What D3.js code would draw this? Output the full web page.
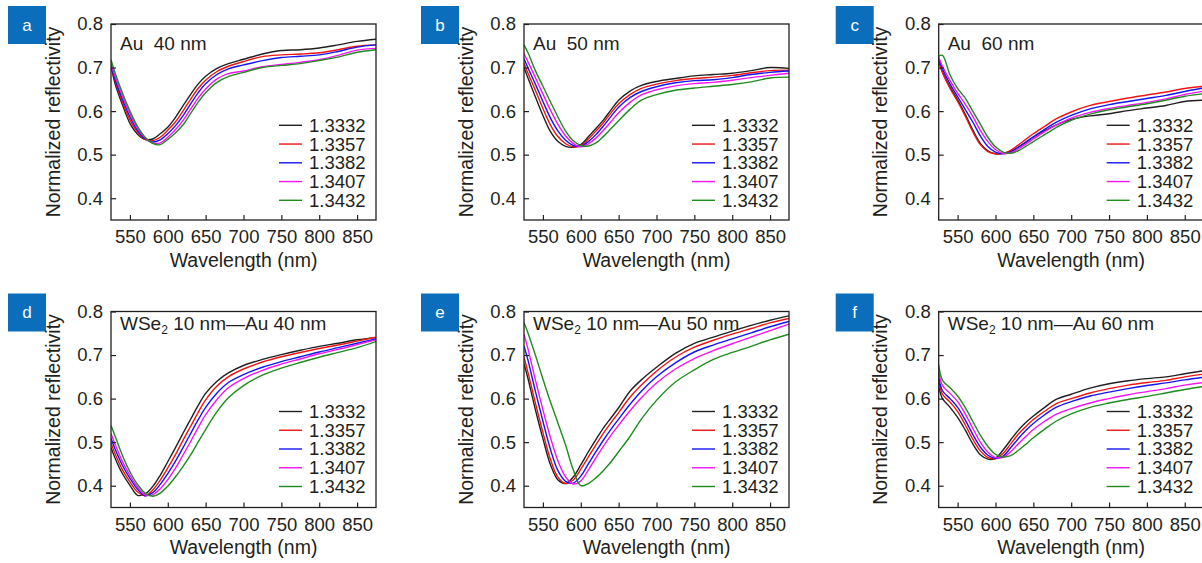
<!DOCTYPE html>
<html>
<head>
<meta charset="utf-8">
<script src="https://cdn.jsdelivr.net/npm/d3@7"></script>
<style>
  body { margin: 0; background: #fff; }
  text { font-family: "Liberation Sans", Arial, sans-serif; fill: #231f20; }
</style>
</head>
<body>
<div id="chart"></div>
<script>
// wavelength grid (nm) shared by every curve
var wavelength = [525, 530, 540, 550, 560, 570, 580, 590, 600, 610, 620, 630, 640, 650, 665, 680, 700, 725, 750, 775, 800, 825, 850, 875];
var indices = ["1.3332", "1.3357", "1.3382", "1.3407", "1.3432"];
var xTicks = [550, 600, 650, 700, 750, 800, 850];
var yTicks = [0.4, 0.5, 0.6, 0.7, 0.8];
var panelLetters = ["a", "b", "c", "d", "e", "f"];
var auThickness = ["40", "50", "60", "40", "50", "60"];

// reflectivity per panel, one row per refractive index
var au40 = [
  [.706, .665, .615, .572, .547, .535, .536, .548, .563, .585, .612, .638, .662, .680, .698, .709, .719, .731, .739, .741, .745, .752, .760, .765],
  [.703, .672, .622, .580, .552, .535, .532, .540, .556, .575, .600, .627, .652, .671, .691, .703, .714, .725, .729, .731, .734, .741, .749, .752],
  [.704, .675, .628, .587, .556, .537, .529, .534, .548, .566, .589, .616, .642, .663, .684, .697, .706, .716, .723, .726, .729, .737, .747, .752],
  [.710, .682, .635, .594, .561, .539, .527, .527, .540, .557, .578, .604, .630, .651, .674, .686, .692, .702, .707, .712, .718, .728, .740, .744],
  [.718, .690, .642, .600, .565, .540, .526, .523, .535, .550, .568, .594, .620, .642, .666, .679, .689, .700, .705, .709, .716, .724, .735, .741]
];
var au50 = [
  [.700, .677, .633, .590, .553, .530, .519, .517, .523, .541, .560, .580, .603, .625, .646, .659, .668, .675, .681, .684, .687, .693, .700, .698],
  [.710, .688, .648, .606, .568, .541, .525, .518, .520, .536, .554, .574, .596, .617, .638, .652, .662, .670, .675, .678, .682, .688, .693, .694],
  [.720, .700, .662, .622, .584, .554, .533, .521, .519, .530, .546, .566, .588, .609, .631, .645, .656, .665, .670, .672, .677, .684, .689, .692],
  [.732, .714, .677, .639, .602, .569, .543, .526, .518, .525, .538, .556, .576, .596, .620, .637, .649, .658, .663, .666, .671, .677, .682, .687],
  [.752, .735, .693, .657, .621, .586, .554, .532, .521, .520, .527, .542, .560, .578, .604, .625, .638, .648, .653, .657, .661, .667, .676, .678]
];
var au60 = [
  [.715, .690, .655, .626, .593, .557, .526, .509, .502, .503, .508, .517, .528, .540, .555, .568, .581, .589, .594, .601, .607, .613, .622, .625],
  [.718, .688, .652, .622, .589, .553, .523, .507, .502, .503, .510, .522, .535, .548, .565, .582, .598, .613, .622, .630, .637, .644, .652, .657],
  [.720, .697, .662, .633, .604, .575, .543, .519, .506, .502, .506, .517, .529, .541, .558, .574, .590, .605, .615, .622, .629, .636, .645, .653],
  [.723, .703, .670, .641, .616, .588, .556, .530, .512, .503, .504, .513, .524, .536, .553, .568, .584, .597, .606, .613, .620, .628, .638, .646],
  [.726, .728, .683, .652, .630, .600, .570, .540, .518, .506, .503, .509, .519, .530, .546, .562, .579, .593, .603, .610, .617, .625, .634, .640]
];
var wse2Au40 = [
  [.488, .465, .428, .401, .378, .381, .398, .424, .455, .487, .520, .552, .584, .612, .640, .659, .676, .690, .701, .711, .720, .727, .735, .740],
  [.498, .475, .437, .409, .386, .377, .390, .413, .441, .471, .504, .536, .568, .597, .629, .650, .668, .684, .696, .706, .715, .723, .732, .741],
  [.509, .486, .447, .417, .392, .377, .384, .403, .428, .456, .487, .519, .551, .580, .613, .637, .655, .672, .685, .696, .707, .717, .727, .737],
  [.520, .497, .456, .424, .397, .379, .379, .393, .414, .440, .470, .501, .533, .563, .598, .625, .646, .665, .679, .691, .703, .713, .724, .735],
  [.538, .516, .470, .432, .403, .383, .376, .383, .399, .420, .444, .470, .500, .529, .570, .602, .630, .654, .670, .683, .695, .706, .717, .731]
];
var wse2Au50 = [
  [.680, .648, .575, .508, .448, .413, .405, .420, .448, .478, .506, .533, .556, .579, .617, .643, .672, .704, .727, .741, .755, .768, .780, .790],
  [.695, .662, .590, .522, .460, .419, .405, .413, .438, .466, .494, .521, .545, .568, .603, .631, .663, .695, .718, .734, .748, .761, .774, .784],
  [.721, .690, .617, .548, .483, .434, .410, .406, .422, .450, .478, .505, .530, .553, .587, .617, .650, .682, .707, .723, .737, .751, .765, .777],
  [.748, .716, .643, .574, .510, .456, .420, .404, .411, .436, .464, .491, .516, .539, .572, .602, .636, .668, .692, .710, .726, .741, .756, .771],
  [.775, .752, .700, .645, .592, .543, .493, .437, .400, .405, .418, .435, .455, .478, .513, .553, .596, .638, .666, .690, .706, .720, .735, .748]
];
var wse2Au60 = [
  [.628, .600, .580, .557, .528, .496, .471, .461, .463, .482, .505, .527, .545, .560, .580, .598, .610, .624, .634, .641, .646, .650, .657, .664],
  [.640, .610, .592, .570, .540, .507, .480, .465, .462, .474, .496, .518, .536, .552, .571, .588, .600, .613, .623, .631, .637, .642, .650, .656],
  [.650, .618, .600, .580, .551, .518, .489, .470, .463, .468, .487, .508, .527, .543, .563, .580, .593, .606, .615, .623, .630, .636, .643, .649],
  [.662, .630, .612, .593, .565, .532, .500, .477, .465, .465, .478, .496, .513, .529, .548, .564, .577, .590, .600, .609, .616, .623, .631, .637],
  [.678, .642, .625, .606, .580, .548, .516, .490, .472, .466, .469, .481, .495, .510, .530, .548, .565, .580, .590, .598, .605, .613, .621, .628]
];

var panelData = [au40, au50, au60, wse2Au40, wse2Au50, wse2Au60];
var lineColors = ["#231f20", "#f01414", "#1414f5", "#f514f5", "#1e8c1e"];

var svgWidth = 1202;
var svgHeight = 563;
var plotW = 265;
var plotH = 196;
var colX = [111, 524, 938.7];
var rowY = [24, 311.5];
var titleBase = [26, 18.5];
var legendTop = [101.3, 100];

var svg = d3.select("#chart")
  .append("svg")
  .attr("width", svgWidth)
  .attr("height", svgHeight);

svg.append("rect").attr("width", svgWidth).attr("height", svgHeight).attr("fill", "#fff");

var defs = svg.append("defs");
defs.append("clipPath").attr("id", "plotClip")
  .append("rect").attr("width", plotW).attr("height", plotH);

var x = d3.scaleLinear().domain([525, 875]).range([0, plotW]);
var y = d3.scaleLinear().domain([0.35, 0.8]).range([plotH, 0]);

var line = d3.line()
  .x(function(d, i) { return x(wavelength[i]); })
  .y(function(d) { return y(d); })
  .curve(d3.curveCatmullRom.alpha(0.5));

panelData.forEach(function(series, p) {
  var row = Math.floor(p / 3);
  var col = p % 3;
  var g = svg.append("g")
    .attr("transform", `translate(${colX[col]}, ${rowY[row]})`);

  // panel letter badge
  g.append("rect")
    .attr("x", -103).attr("y", -18)
    .attr("width", 38).attr("height", 38)
    .attr("fill", "#0a6ebd");
  g.append("text")
    .attr("x", -84).attr("y", 1)
    .attr("text-anchor", "middle")
    .attr("dominant-baseline", "central")
    .style("font-size", "17px")
    .style("fill", "#fff")
    .text(panelLetters[p]);

  // curves
  g.append("g").attr("clip-path", "url(#plotClip)")
    .selectAll("path")
    .data(series)
    .enter()
    .append("path")
    .attr("d", line)
    .attr("fill", "none")
    .attr("stroke", function(d, i) { return lineColors[i]; })
    .attr("stroke-width", 1.4);

  // axes with inward ticks
  var bottomAxis = d3.axisBottom(x).tickValues(xTicks).tickSizeInner(-5).tickSizeOuter(0).tickPadding(10);
  var leftAxis = d3.axisLeft(y).tickValues(yTicks).tickFormat(d3.format(".1f")).tickSizeInner(-5).tickSizeOuter(0).tickPadding(8);

  var xa = g.append("g").attr("transform", `translate(0, ${plotH})`).call(bottomAxis);
  var ya = g.append("g").call(leftAxis);
  [xa, ya].forEach(function(a) {
    a.select(".domain").remove();
    a.selectAll("line").attr("stroke", "#231f20").attr("stroke-width", 1.2);
    a.selectAll("text").style("font-size", "18.5px").style("font-family", "Liberation Sans, Arial, sans-serif").attr("fill", "#231f20");
  });

  // frame
  g.append("rect")
    .attr("width", plotW).attr("height", plotH)
    .attr("fill", "none")
    .attr("stroke", "#231f20")
    .attr("stroke-width", 1.3);

  // panel title
  var title = g.append("text")
    .attr("x", 9).attr("y", titleBase[row])
    .attr("xml:space", "preserve")
    .style("font-size", "19px")
    .style("white-space", "pre");
  if (row === 0) {
    title.text("Au  " + auThickness[p] + " nm");
  } else {
    title.append("tspan").text("WSe");
    title.append("tspan").attr("dy", 4).style("font-size", "12px").text("2");
    title.append("tspan").attr("dy", -4).text(" 10 nm\u2014Au " + auThickness[p] + " nm");
  }

  // legend
  var legend = g.append("g");
  indices.forEach(function(label, i) {
    var ly = legendTop[row] + i * 18.75;
    legend.append("line")
      .attr("x1", 168).attr("x2", 191)
      .attr("y1", ly).attr("y2", ly)
      .attr("stroke", lineColors[i])
      .attr("stroke-width", 1.4);
    legend.append("text")
      .attr("x", 198).attr("y", ly)
      .attr("dy", "0.35em")
      .style("font-size", "18.5px")
      .text(label);
  });

  // axis titles
  g.append("text")
    .attr("x", plotW / 2).attr("y", plotH + 46.5)
    .attr("text-anchor", "middle")
    .style("font-size", "19.5px")
    .text("Wavelength (nm)");

  g.append("text")
    .attr("transform", "rotate(-90)")
    .attr("x", -plotH / 2).attr("y", -51.5)
    .attr("text-anchor", "middle")
    .style("font-size", "19.5px")
    .text("Normalized reflectivity");
});
</script>
</body>
</html>
